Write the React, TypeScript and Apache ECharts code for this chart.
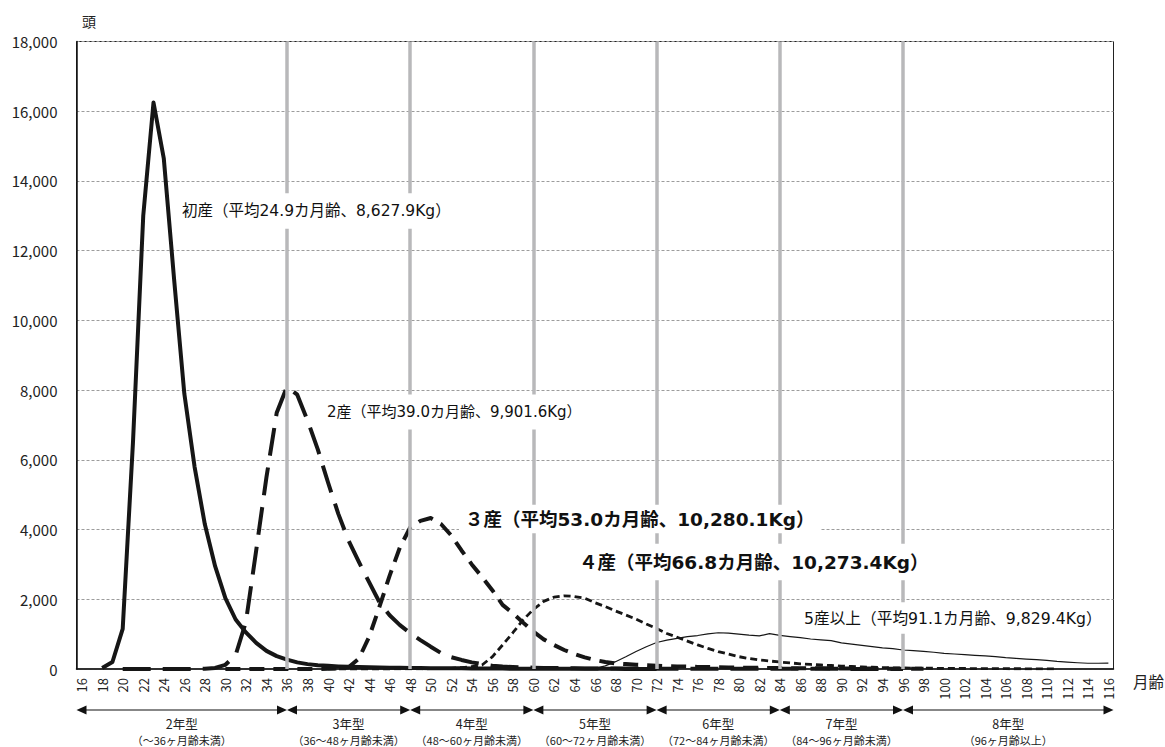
import React, { useEffect, useRef } from "react";
import * as echarts from "echarts";

// x categories (months of age)
const months = [
  "16","17","18","19","20","21","22","23","24","25",
  "26","27","28","29","30","31","32","33","34","35",
  "36","37","38","39","40","41","42","43","44","45",
  "46","47","48","49","50","51","52","53","54","55",
  "56","57","58","59","60","61","62","63","64","65",
  "66","67","68","69","70","71","72","73","74","75",
  "76","77","78","79","80","81","82","83","84","85",
  "86","87","88","89","90","91","92","93","94","95",
  "96","97","98","99","100","101","102","103","104","105",
  "106","107","108","109","110","111","112","113","114","115",
  "116",
];

const yMin = 0;
const yMax = 18000;
const yStep = 2000;

// boundaries of the "年型" groups
const boundaryMonths = ["36", "48", "60", "72", "84", "96"];
const typeLabels = ["2年型", "3年型", "4年型", "5年型", "6年型", "7年型", "8年型"];
const typeSubLabels = [
  "（～36ヶ月齢未満）",
  "（36～48ヶ月齢未満）",
  "（48～60ヶ月齢未満）",
  "（60～72ヶ月齢未満）",
  "（72～84ヶ月齢未満）",
  "（84～96ヶ月齢未満）",
  "（96ヶ月齢以上）",
];

const N = null;

// 初産
const parity1 = [
  N, N, 30, 200, 1150, 6500, 13000, 16250, 14650, 11200,
  7900, 5800, 4150, 2950, 2030, 1420, 1050, 750, 520, 370,
  270, 190, 140, 110, 90, 75, 65, 55, 48, 42,
  37, 33, 30, 27, 24, 22, 20, 18, 16, 14,
  12, 11, 10, 9, 8, 7, 7, 6, 6, 5,
  5, 4, 4, 3, 3, 3, 2, N, N, N,
  N, N, N, N, N, N, N, N, N, N,
  N, N, N, N, N, N, N, N, N, N,
  N, N, N, N, N, N, N, N, N, N,
  N, N, N, N, N, N, N, N, N, N,
  N,
];

// 2産
const parity2 = [
  N, N, N, N, 0, 0, 0, 0, 0, 0,
  0, 5, 10, 30, 120, 400, 1350, 3400, 5500, 7350,
  8100, 7870, 7130, 6300, 5350, 4450, 3680, 3070, 2490, 1920,
  1540, 1260, 1030, 830, 640, 460, 340, 260, 190, 140,
  95, 70, 55, 45, 38, 32, 27, 23, 20, 17,
  15, 14, 13, 12, 11, 10, 10, 9, 9, 8,
  8, 7, 7, 7, 6, 6, 6, 5, 5, 5,
  5, 4, 4, 4, 4, 3, 3, 3, 3, 3,
  2, N, N, N, N, N, N, N, N, N,
  N, N, N, N, N, N, N, N, N, N,
  N,
];

// 3産
const parity3 = [
  N, N, N, N, N, N, N, N, N, N,
  N, N, N, N, 0, 0, 0, 0, 0, 0,
  0, 0, 0, 2, 5, 15, 50, 300, 920, 1780,
  2680, 3490, 4060, 4250, 4330, 4160, 3830, 3400, 3000, 2640,
  2260, 1840, 1600, 1330, 1070, 850, 690, 545, 430, 335,
  260, 200, 160, 140, 125, 110, 95, 85, 75, 68,
  60, 55, 50, 45, 40, 36, 33, 30, 27, 25,
  22, 20, 18, 16, 15, 13, 12, 11, 10, 9,
  8, 7, 6, N, N, N, N, N, N, N,
  N, N, N, N, N, N, N, N, N, N,
  N,
];

// 4産
const parity4 = [
  N, N, N, N, N, N, N, N, N, N,
  N, N, N, N, N, N, N, N, N, N,
  N, N, N, N, 0, 0, 0, 0, 0, 0,
  0, 2, 4, 6, 8, 12, 20, 40, 70, 115,
  350, 690, 1040, 1410, 1710, 1940, 2060, 2100, 2080, 2030,
  1900, 1790, 1665, 1550, 1430, 1290, 1160, 1020, 910, 800,
  690, 590, 500, 430, 355, 300, 260, 230, 200, 175,
  150, 130, 115, 100, 85, 72, 60, 50, 40, 35,
  30, 27, 24, 21, 18, 16, 14, 12, 10, 9,
  8, 7, 6, 5, 5, 4, N, N, N, N,
  N,
];

// 5産以上
const parity5 = [
  N, N, N, N, N, N, N, N, N, N,
  N, N, N, N, N, N, N, N, N, N,
  N, N, N, N, N, N, N, N, N, N,
  N, N, N, N, N, N, N, N, N, N,
  N, N, N, N, 0, 0, 0, 0, 0, 5,
  20, 90, 210, 350, 500, 640, 760, 830, 880, 930,
  960, 1010, 1040, 1030, 1000, 970, 950, 1015, 965, 930,
  900, 860, 835, 815, 750, 715, 675, 640, 605, 585,
  545, 525, 505, 480, 450, 430, 410, 390, 375, 355,
  325, 305, 285, 270, 250, 220, 200, 180, 165, 165,
  170,
];

const seriesNames = ["初産", "2産", "3産", "4産", "5産以上"];

const annotationTexts = [
  "初産（平均24.9カ月齢、8,627.9Kg）",
  "2産（平均39.0カ月齢、9,901.6Kg）",
  "３産（平均53.0カ月齢、10,280.1Kg）",
  "４産（平均66.8カ月齢、10,273.4Kg）",
  "5産以上（平均91.1カ月齢、9,829.4Kg）",
];

const FONT = '"Noto Sans CJK JP", "Noto Sans", sans-serif';
const FONT_WIDE = '"DejaVu Sans", "Noto Sans CJK JP", sans-serif';
const INK = "#161616";

export default function App() {
  const ref = useRef<HTMLDivElement>(null);

  useEffect(() => {
    const el = ref.current;
    if (!el) return;
    const chart = echarts.init(el, null, { renderer: "svg" });

    const lineSeries = (name: string, data: any[], width: number, type: any) => ({
      type: "line",
      name,
      data,
      symbol: "none",
      showSymbol: false,
      smooth: false,
      connectNulls: false,
      silent: true,
      z: 3,
      emphasis: { disabled: true },
      lineStyle: { color: INK, width, type, cap: "butt", join: "round" },
    });

    chart.setOption({
      animation: false,
      backgroundColor: "#ffffff",
      textStyle: { fontFamily: FONT },
      grid: {
        left: 76.5,
        right: 51.5,
        top: 41.5,
        bottom: 78,
        show: true,
        borderColor: "#222",
        borderWidth: 1,
        backgroundColor: "transparent",
      },
      xAxis: {
        type: "category",
        data: months,
        boundaryGap: true,
        axisLine: { show: true, lineStyle: { color: "#111", width: 1.5 } },
        axisTick: { show: false },
        axisLabel: {
          interval: 1,
          rotate: 90,
          fontSize: 13,
          color: "#222",
          margin: 9,
          fontFamily: FONT,
        },
        splitLine: { show: false },
      },
      yAxis: {
        type: "value",
        min: yMin,
        max: yMax,
        interval: yStep,
        axisLine: { show: true, lineStyle: { color: "#111", width: 1.5 } },
        axisTick: { show: false },
        axisLabel: {
          fontSize: 15,
          color: "#222",
          margin: 19,
          fontFamily: FONT,
          formatter: (v: number) => v.toLocaleString("en-US"),
        },
        splitLine: { show: true, lineStyle: { color: "#9c9c9c", type: [3, 2], width: 1 } },
      },
      series: [
        {
          type: "line",
          name: "boundaries",
          data: [],
          z: 1,
          silent: true,
          markLine: {
            silent: true,
            symbol: ["none", "none"],
            label: { show: false },
            emphasis: { disabled: true },
            lineStyle: { color: "#b8b8ba", width: 3.5, type: "solid" },
            data: boundaryMonths.map((m) => ({ xAxis: m })),
          },
        },
        lineSeries(seriesNames[4], parity5, 1.2, "solid"),
        lineSeries(seriesNames[3], parity4, 2.8, [7, 4]),
        lineSeries(seriesNames[2], parity3, 4, [15, 9]),
        lineSeries(seriesNames[1], parity2, 4, [28, 12]),
        lineSeries(seriesNames[0], parity1, 4, "solid"),
      ],
    });

    // positions of group boundaries via the category axis
    const px = (m: string) => chart.convertToPixel({ xAxisIndex: 0 }, m) as number;
    const band = px("17") - px("16");
    const leftEdge = px(months[0]) - band / 2;
    const rightEdge = px(months[months.length - 1]) + band / 2;
    const stops = [leftEdge, ...boundaryMonths.map(px), rightEdge];

    const arrowY = 710;
    const headL = 10;
    const headH = 4.5;
    const elements: any[] = [];

    for (let i = 0; i < stops.length - 1; i++) {
      const a = stops[i];
      const b = stops[i + 1];
      elements.push({
        type: "line",
        z: 50,
        silent: true,
        shape: { x1: a + headL - 1, y1: arrowY, x2: b - headL + 1, y2: arrowY },
        style: { stroke: "#111", lineWidth: 1.2 },
      });
      elements.push({
        type: "polygon",
        z: 50,
        silent: true,
        shape: { points: [[a, arrowY], [a + headL, arrowY - headH], [a + headL, arrowY + headH]] },
        style: { fill: "#111" },
      });
      elements.push({
        type: "polygon",
        z: 50,
        silent: true,
        shape: { points: [[b, arrowY], [b - headL, arrowY - headH], [b - headL, arrowY + headH]] },
        style: { fill: "#111" },
      });
      const cx = (a + b) / 2;
      elements.push({
        type: "text",
        z: 50,
        silent: true,
        x: cx,
        y: 723,
        style: {
          text: typeLabels[i],
          fontSize: 12.5,
          lineHeight: 13,
          fontFamily: FONT,
          fill: "#222",
          align: "center",
          verticalAlign: "middle",
          textAlign: "center",
          textVerticalAlign: "middle",
        },
      });
      elements.push({
        type: "text",
        z: 50,
        silent: true,
        x: cx,
        y: 740,
        style: {
          text: typeSubLabels[i],
          fontSize: 11,
          lineHeight: 11,
          fontFamily: FONT,
          fill: "#222",
          align: "center",
          verticalAlign: "middle",
          textAlign: "center",
          textVerticalAlign: "middle",
        },
      });
    }

    const annot = (text: string, x: number, y: number, size: number, bold: boolean, padV: number) => ({
      type: "text",
      z: 60,
      silent: true,
      x,
      y,
      style: {
        text,
        fontSize: size,
        fontWeight: bold ? "bold" : "normal",
        fontFamily: FONT_WIDE,
        fill: "#111",
        align: "left",
        verticalAlign: "middle",
        textAlign: "left",
        textVerticalAlign: "middle",
        backgroundColor: "#ffffff",
        padding: [padV, 6],
      },
    });

    elements.push(annot(annotationTexts[0], 176, 211, 15.5, false, 10));
    elements.push(annot(annotationTexts[1], 321, 412, 15, false, 10));
    elements.push(annot(annotationTexts[2], 459, 519, 18.5, true, 5));
    elements.push(annot(annotationTexts[3], 573, 562, 18.5, true, 9));
    elements.push(annot(annotationTexts[4], 798, 618, 15.7, false, 8));

    // axis names
    elements.push({
      type: "text",
      z: 50,
      silent: true,
      x: 82,
      y: 21,
      style: {
        text: "頭",
        fontSize: 14,
        fontFamily: FONT,
        fill: "#222",
        align: "left",
        verticalAlign: "middle",
        textAlign: "left",
        textVerticalAlign: "middle",
      },
    });
    elements.push({
      type: "text",
      z: 50,
      silent: true,
      x: 1133,
      y: 681,
      style: {
        text: "月齢",
        fontSize: 15.5,
        fontFamily: FONT,
        fill: "#222",
        align: "left",
        verticalAlign: "middle",
        textAlign: "left",
        textVerticalAlign: "middle",
      },
    });

    chart.setOption({ graphic: { elements } });

    return () => {
      chart.dispose();
    };
  }, []);

  return (
    <div
      ref={ref}
      style={{ position: "fixed", left: 0, top: 0, width: 1165, height: 747, background: "#fff" }}
    />
  );
}
